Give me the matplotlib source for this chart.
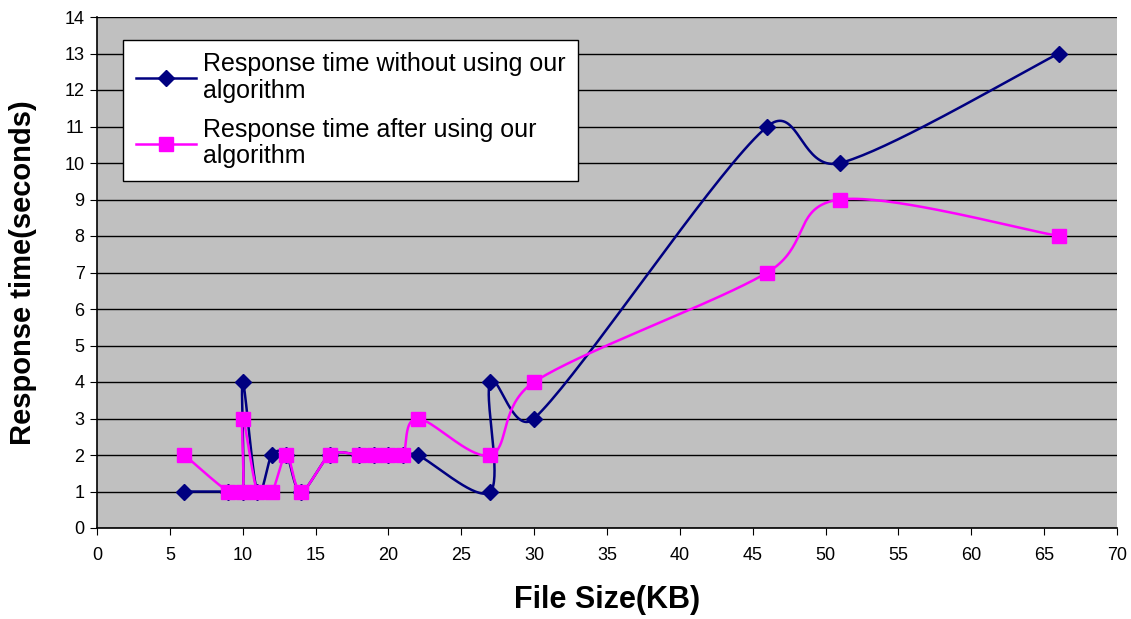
import numpy as np
import matplotlib.pyplot as plt
from matplotlib.lines import Line2D

plt.rcParams['font.family'] = ['Liberation Sans', 'DejaVu Sans']

# data
x_without = [6, 9, 10, 10, 11, 12, 13, 14, 16, 18, 19, 20, 21, 22, 27, 27, 30, 46, 51, 66]
y_without = [1, 1, 1, 4, 1, 2, 2, 1, 2, 2, 2, 2, 2, 2, 1, 4, 3, 11, 10, 13]

x_after = [6, 9, 10, 10, 11, 12, 13, 14, 16, 18, 19, 20, 21, 22, 27, 30, 46, 51, 66]
y_after = [2, 1, 1, 3, 1, 1, 2, 1, 2, 2, 2, 2, 2, 3, 2, 4, 7, 9, 8]

label_without = "Response time without using our\nalgorithm"
label_after = "Response time after using our\nalgorithm"

# pixels per data unit, used so the smoothing behaves like excel's (screen space)
PX_X = 1020 / 70
PX_Y = 511 / 14


# excel-like smoothed line: catmull-rom bezier, handles limited to half the segment
def smooth(xs, ys, n=40):
    P = np.column_stack([np.array(xs) * PX_X, np.array(ys) * PX_Y]).astype(float)
    out = [P[0]]
    t = np.linspace(0, 1, n)[1:, None]
    for i in range(len(P) - 1):
        p0 = P[i - 1] if i > 0 else P[i]
        p1 = P[i]
        p2 = P[i + 1]
        p3 = P[i + 2] if i + 2 < len(P) else P[i + 1]
        half = np.linalg.norm(p2 - p1) / 2
        v1 = (p2 - p0) / 6
        v2 = (p3 - p1) / 6
        if np.linalg.norm(v1) > half:
            v1 = v1 / np.linalg.norm(v1) * half
        if np.linalg.norm(v2) > half:
            v2 = v2 / np.linalg.norm(v2) * half
        c1 = p1 + v1
        c2 = p2 - v2
        seg = ((1 - t) ** 3) * p1 + 3 * ((1 - t) ** 2) * t * c1 + 3 * (1 - t) * t ** 2 * c2 + t ** 3 * p2
        out.extend(seg)
    out = np.array(out)
    return out[:, 0] / PX_X, out[:, 1] / PX_Y


fig = plt.figure(figsize=(11.31, 6.19), dpi=100)
ax = fig.add_axes([97 / 1131, 1 - 528 / 619, (1117 - 97) / 1131, (528 - 17) / 619])
ax.set_facecolor('#C0C0C0')

navy = '#000080'
pink = '#FF00FF'

sx, sy = smooth(x_without, y_without)
ax.plot(sx, sy, color=navy, lw=1.8, zorder=3)
ax.plot(x_without, y_without, ls='none', marker='D', ms=8, color=navy, zorder=4)

sx, sy = smooth(x_after, y_after)
ax.plot(sx, sy, color=pink, lw=1.8, zorder=5)
ax.plot(x_after, y_after, ls='none', marker='s', ms=10, color=pink, zorder=6)

ax.set_xlim(0, 70)
ax.set_ylim(0, 14)
ax.set_xticks(range(0, 71, 5))
ax.set_yticks(range(0, 15))
ax.yaxis.grid(True, color='black', lw=1)
ax.set_axisbelow(True)
for s in ['top', 'right']:
    ax.spines[s].set_visible(False)
ax.spines['left'].set_linewidth(1.2)
ax.spines['bottom'].set_linewidth(1.2)
ax.tick_params(axis='x', direction='out', length=5, pad=9, labelsize=13)
ax.tick_params(axis='y', direction='out', length=5, pad=4, labelsize=13)

ax.set_xlabel("File Size(KB)", fontsize=22, fontweight='bold', labelpad=15)
ax.set_ylabel("Response time(seconds)", fontsize=21, fontweight='bold', labelpad=20)

handles = [
    Line2D([], [], color=navy, lw=1.8, marker='D', ms=8),
    Line2D([], [], color=pink, lw=1.8, marker='s', ms=10),
]
leg = fig.legend(handles, [label_without, label_after], loc='upper left',
                 bbox_to_anchor=(123 / 1131, 1 - 40 / 619), borderaxespad=0,
                 fontsize=18, frameon=True, fancybox=False, framealpha=1,
                 edgecolor='black', handlelength=2.4, handletextpad=0.3,
                 labelspacing=0.6, borderpad=0.5)
leg.get_frame().set_linewidth(1)
for txt in leg.get_texts():
    txt.set_linespacing(1.12)

fig.savefig('out.png', dpi=100)
